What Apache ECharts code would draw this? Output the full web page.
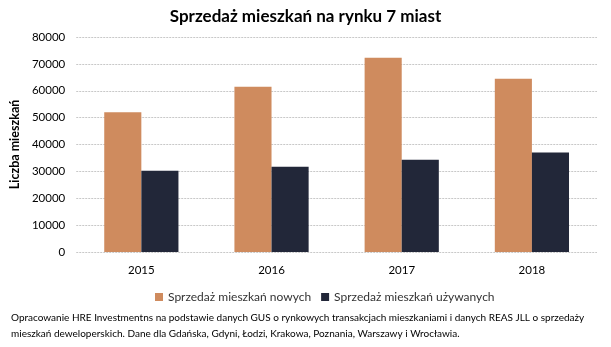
<!DOCTYPE html>
<html><head><meta charset="utf-8">
<script src="https://cdn.jsdelivr.net/npm/echarts@6/dist/echarts.min.js"></script>
<style>html,body{margin:0;padding:0;background:#fff}#c{width:611px;height:347px}</style>
</head><body><div id="c"></div>
<script>
const categories = ['2015', '2016', '2017', '2018'];
const newSales = [52000, 61500, 72300, 64500];
const usedSales = [30200, 31700, 34300, 37000];
const seriesNames = ['Sprzedaż mieszkań nowych', 'Sprzedaż mieszkań używanych'];
const titleText = 'Sprzedaż mieszkań na rynku 7 miast';
const yName = 'Liczba mieszkań';
const footnote = 'Opracowanie HRE Investmentns na podstawie danych GUS o rynkowych transakcjach mieszkaniami i danych REAS JLL o sprzedaży\nmieszkań deweloperskich. Dane dla Gdańska, Gdyni, Łodzi, Krakowa, Poznania, Warszawy i Wrocławia.';

const font = 'Lato, Open Sans, sans-serif';
const chart = echarts.init(document.getElementById('c'));
chart.setOption({
  animation: false,
  title: {text: titleText, left: 'center', top: 3,
    textStyle: {fontFamily: font, fontSize: 17, fontWeight: 'bold', color: '#000'}},
  grid: {left: 73, right: 14, top: 37, bottom: 95},
  legend: {data: seriesNames, top: 286, left: 150, itemWidth: 8, itemHeight: 8, itemGap: 10,
    icon: 'rect', textStyle: {fontFamily: font, fontSize: 12, color: '#333'}},
  graphic: [{type: 'text', left: 11, top: 310, style: {text: footnote, fontFamily: font, fontSize: 10, lineHeight: 16, fill: '#000'}}],
  xAxis: {type: 'category', data: categories,
    axisLine: {show: false}, axisTick: {show: false},
    axisLabel: {fontFamily: font, fontSize: 11.5, color: '#000', margin: 12}},
  yAxis: {type: 'value', min: 0, max: 80000, interval: 10000,
    name: yName, nameLocation: 'middle', nameGap: 50, nameRotate: 90,
    nameTextStyle: {fontFamily: font, fontSize: 12.5, fontWeight: 'bold', color: '#000'},
    axisLabel: {fontFamily: font, fontSize: 11.5, color: '#000', margin: 11, formatter: v => String(v)},
    splitLine: {lineStyle: {color: '#c8c8c8', type: [2, 1]}}},
  series: [
    {name: seriesNames[0], type: 'bar', data: newSales, barGap: '0%', barCategoryGap: '43%',
     itemStyle: {color: '#CF8B5E'}},
    {name: seriesNames[1], type: 'bar', data: usedSales, itemStyle: {color: '#222739'}}
  ]
});
</script></body></html>
